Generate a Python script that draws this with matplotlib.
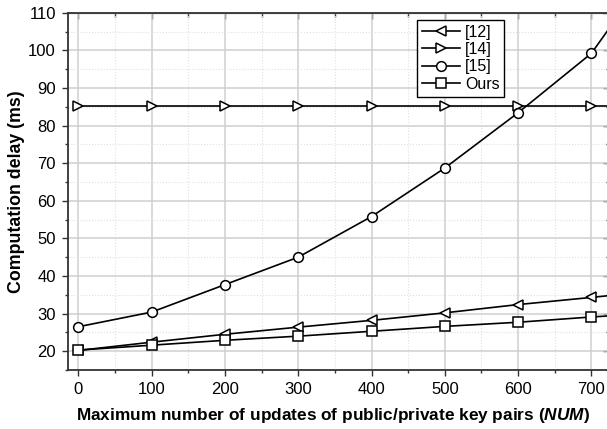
import numpy as np
import matplotlib
matplotlib.use("Agg")
import matplotlib.pyplot as plt
from matplotlib.ticker import MultipleLocator

plt.rcParams["font.family"] = ["Liberation Sans", "DejaVu Sans"]
plt.rcParams["mathtext.fontset"] = "custom"
plt.rcParams["mathtext.bfit"] = "Liberation Sans:bold:italic"
plt.rcParams["mathtext.rm"] = "Liberation Sans:bold"

# data (800 is only partly visible on the right)
num = [0, 100, 200, 300, 400, 500, 600, 700, 800]
ref12 = [20.2, 22.4, 24.5, 26.4, 28.2, 30.2, 32.4, 34.3, 36.3]
ref14 = [85.2, 85.2, 85.2, 85.2, 85.2, 85.2, 85.2, 85.2, 85.2]
ref15 = [26.5, 30.4, 37.7, 45.0, 55.8, 68.7, 83.4, 99.2, 126.5]
ours = [20.3, 21.6, 22.9, 24.0, 25.3, 26.6, 27.7, 29.1, 30.3]

fig = plt.figure(figsize=(6.07, 4.29), dpi=100)
ax = fig.add_axes([0.1115, 0.1375, 0.8918, 0.8329])

style = dict(color="black", lw=1.2, ms=7, mfc="white", mec="black", mew=1.1)
ax.plot(num, ref12, marker="<", label="[12]", **style)
ax.plot(num, ref14, marker=">", label="[14]", **style)
ax.plot(num, ref15, marker="o", label="[15]", **style)
ax.plot(num, ours, marker="s", label="Ours", **style)

ax.set_xlim(-14.5, 724)
ax.set_ylim(15, 110)
ax.xaxis.set_major_locator(MultipleLocator(100))
ax.xaxis.set_minor_locator(MultipleLocator(50))
ax.yaxis.set_major_locator(MultipleLocator(10))
ax.yaxis.set_minor_locator(MultipleLocator(5))

ax.grid(which="major", color="#cfcfcf", lw=1.1, ls="-")
ax.grid(which="minor", color="#e0e0e0", lw=0.8, ls=":")
ax.set_axisbelow(True)

for s in ax.spines.values():
    s.set_color("#333333")
    s.set_linewidth(1.3)

ax.tick_params(which="major", direction="out", length=4.5, width=1.0,
               color="#333333", labelsize=12, pad=4)
ax.tick_params(which="minor", direction="out", length=2.5, width=1.0,
               color="#333333")

# inward ticks on top and right
sx = ax.secondary_xaxis("top")
sx.xaxis.set_major_locator(MultipleLocator(100))
sx.xaxis.set_minor_locator(MultipleLocator(50))
sx.tick_params(which="major", direction="in", length=4.5, width=1.0, color="#333333", labeltop=False)
sx.tick_params(which="minor", direction="in", length=3, width=1.0, color="#333333")
sy = ax.secondary_yaxis("right")
sy.yaxis.set_major_locator(MultipleLocator(10))
sy.yaxis.set_minor_locator(MultipleLocator(5))
sy.tick_params(which="major", direction="in", length=4.5, width=1.0, color="#333333", labelright=False)
sy.tick_params(which="minor", direction="in", length=2.5, width=1.0, color="#333333")

ax.set_xlabel(r"Maximum number of updates of public/private key pairs ($\mathbfit{NUM}$)",
              fontsize=12.4, fontweight="bold", labelpad=5)
ax.xaxis.set_label_coords(0.49, -0.1)
ax.set_ylabel("Computation delay (ms)", fontsize=12.8, fontweight="bold", labelpad=2)

leg = ax.legend(loc="upper left", bbox_to_anchor=(0.645, 0.98), fontsize=11.5,
                frameon=True, fancybox=False, edgecolor="black", framealpha=1,
                handlelength=2.4, handletextpad=0.3, labelspacing=0.15,
                borderpad=0.3, borderaxespad=0)
leg.get_frame().set_linewidth(1.0)

fig.savefig("out.png", dpi=100)
